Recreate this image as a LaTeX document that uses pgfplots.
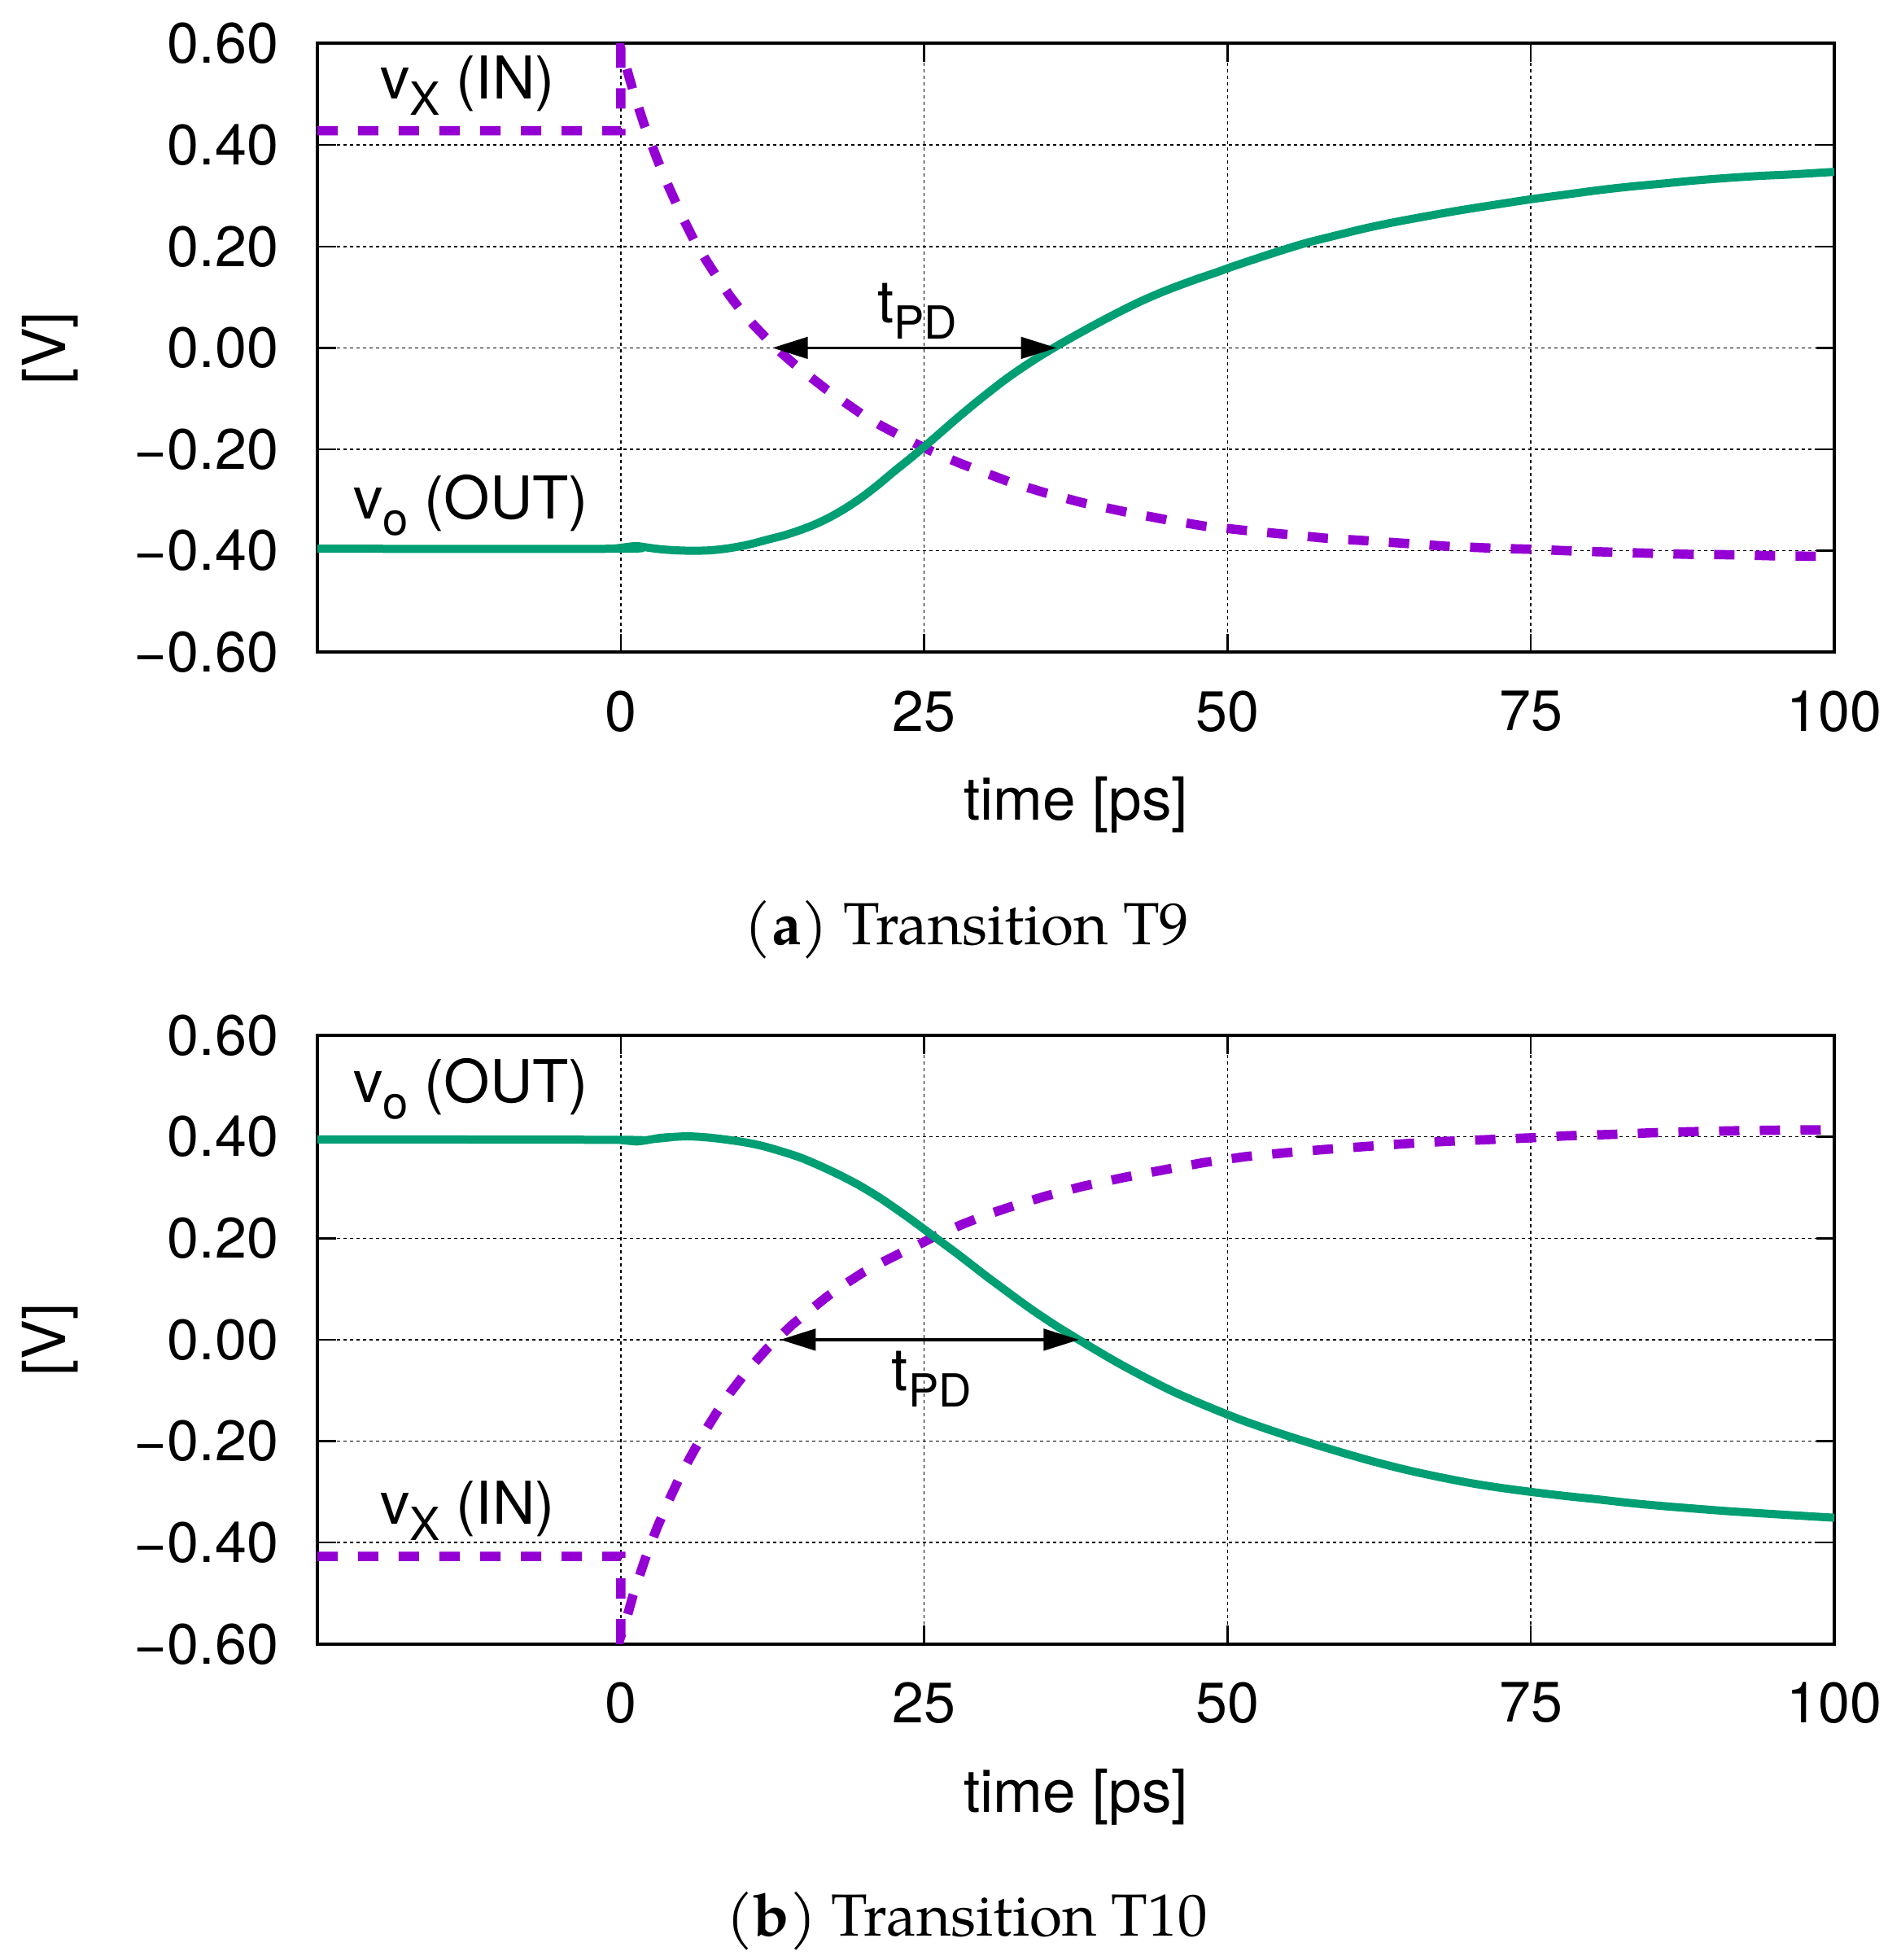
\documentclass[border=0pt]{standalone}
\usepackage{fontspec}
\usepackage{pgfplots}
\usepackage{pgfplotstable}
\pgfplotsset{compat=1.18}
\usetikzlibrary{arrows.meta}
\newfontfamily\helv{TeX Gyre Heros}
\newfontfamily\pal{TeX Gyre Pagella}
\definecolor{vxcol}{HTML}{9400D3}
\definecolor{vocol}{HTML}{009E73}
\newcommand\lblfont{\helv\fontsize{14}{16.8}\selectfont}
\newcommand\axlfont{\helv\fontsize{14.6}{17}\selectfont}
\newcommand\inlfont{\helv\fontsize{14.5}{17}\selectfont}
\newcommand\subfont{\fontsize{11.2}{12}\selectfont}

\pgfplotstableread{
t v
-25 0.428
0 0.428
0 0.590
0.5 0.550
1 0.508
2 0.435
3 0.372
4 0.315
5 0.262
6 0.214
7 0.174
8 0.137
9 0.102
10 0.071
11 0.044
12 0.019
13 -0.005
14.2 -0.030
15.5 -0.055
17 -0.083
18.5 -0.108
20 -0.133
21.5 -0.154
23 -0.173
24.5 -0.191
26 -0.208
28 -0.228
30 -0.246
32 -0.264
35 -0.286
38 -0.305
41.5 -0.323
45 -0.339
48 -0.351
51.5 -0.360
55 -0.368
58 -0.375
62 -0.381
65 -0.386
68 -0.391
72 -0.395
75 -0.397
78 -0.400
82 -0.403
85 -0.405
88 -0.407
92 -0.408
95 -0.410
99.5 -0.411
}\inA

\pgfplotstableread{
t v
-25 -0.396
0 -0.396
0.7 -0.392
1.4 -0.391
2.3 -0.394
3.3 -0.397
4.5 -0.399
5.9 -0.400
7.4 -0.399
8.9 -0.395
10.5 -0.388
12.1 -0.378
13.4 -0.370
14.7 -0.360
16 -0.348
17.3 -0.333
18.6 -0.315
19.9 -0.294
21.2 -0.270
22.5 -0.244
23.8 -0.219
25.1 -0.193
26.4 -0.166
27.7 -0.139
29 -0.113
30.3 -0.088
31.6 -0.064
32.9 -0.042
34.5 -0.017
36.1 0.006
37.8 0.029
39.4 0.050
41 0.070
42.6 0.089
44.3 0.107
45.9 0.122
47.5 0.136
49.1 0.149
50.5 0.161
52.5 0.177
54.3 0.191
56.5 0.207
59 0.222
61.4 0.236
63.8 0.248
66.5 0.260
69.1 0.271
72 0.282
75 0.293
77.8 0.302
80.6 0.311
83.2 0.318
85.9 0.324
88.5 0.330
91.2 0.335
93.8 0.339
96.5 0.342
100 0.347
}\outA

\pgfplotstableread{
t v
-25 -0.427
0 -0.427
0 -0.585
0.5 -0.548
1 -0.505
2 -0.433
3 -0.370
4 -0.315
5 -0.264
6 -0.220
7 -0.178
8 -0.140
9 -0.105
10 -0.074
11 -0.046
12 -0.019
13 0.004
14.2 0.031
15.5 0.056
17 0.085
18.5 0.110
20 0.133
21.5 0.152
23 0.170
24.5 0.187
26 0.205
28 0.226
30 0.245
32 0.261
35 0.283
38 0.302
41.5 0.320
45 0.336
48 0.349
51.5 0.361
55 0.369
58 0.375
62 0.382
65 0.387
68 0.391
72 0.395
75 0.398
78 0.402
82 0.405
85 0.408
88 0.410
92 0.412
95 0.413
99.5 0.414
}\inB

\pgfplotstableread{
t v
-25 0.395
0 0.394
0.7 0.392
1.4 0.391
2.3 0.394
3.3 0.398
4.5 0.400
5.6 0.401
7 0.399
8.2 0.396
10 0.390
11.5 0.383
13 0.373
14.7 0.360
16.3 0.344
18 0.325
19.6 0.305
21.2 0.282
22.5 0.261
23.8 0.239
25.1 0.216
26.4 0.193
27.7 0.170
29 0.146
30.3 0.122
31.6 0.099
32.9 0.076
34.2 0.054
35.9 0.027
37.6 0.002
39.2 -0.021
40.7 -0.042
42.3 -0.063
43.9 -0.083
45.5 -0.102
47.2 -0.120
49 -0.138
51 -0.157
53 -0.174
55 -0.190
57 -0.205
59.5 -0.223
62 -0.240
64.8 -0.257
67.5 -0.271
70.1 -0.283
72.5 -0.292
75 -0.300
77.8 -0.308
80.6 -0.315
83.2 -0.322
85.9 -0.328
88.5 -0.333
91.2 -0.338
93.8 -0.342
96.5 -0.346
100 -0.351
}\outB

\tikzset{
  pd/.style={line width=0.65pt, {Triangle[length=8.7pt,width=5.3pt]}-{Triangle[length=8.7pt,width=5.3pt]}},
  vx/.style={vxcol, line width=2.3pt, line cap=butt, dash pattern=on 5pt off 5pt},
  vo/.style={vocol, line width=2pt, smooth, tension=0.5},
}

\pgfplotsset{
  myaxis/.style={
    scale only axis, width=372.8pt, height=149.56pt,
    anchor=south west,
    xmin=-25, xmax=100, ymin=-0.6, ymax=0.6,
    xtick={0,25,50,75,100},
    ytick={-0.6,-0.4,-0.2,0,0.2,0.4,0.6},
    yticklabels={−0.60,−0.40,−0.20,0.00,0.20,0.40,0.60},
    /pgf/number format/assume math mode=true,
    tick label style={font=\lblfont},
    label style={font=\axlfont},
    xticklabel style={anchor=north, inner sep=0pt, yshift=-9.3pt},
    yticklabel style={anchor=east, inner sep=0pt, xshift=-9.4pt},
    axis line style={line width=0.8pt},
    every tick/.style={black, line width=0.5pt},
    major tick length=4.5pt,
    tick align=inside, tick pos=both,
    grid=major,
    major grid style={black, line width=0.3pt, dash pattern=on 0.8pt off 0.8pt},
    xlabel={time [ps]}, ylabel={[V]},
    xlabel style={at={(axis description cs:0.5,0)}, anchor=base, yshift=-41.3pt, inner sep=0pt},
    ylabel style={at={(axis description cs:-0.17624,0.5)}, anchor=center, inner sep=0pt},
  },
}

\begin{document}
\begin{tikzpicture}
\path[use as bounding box] (0,0) rectangle (467pt,-481.6pt);

\begin{axis}[myaxis, at={(78pt,-160.26pt)}]
  \addplot[vx] table[x=t,y=v] {\inA};
  \addplot[vo] table[x=t,y=v] {\outA};
  \draw[pd] (axis cs:12.5,0) -- (axis cs:35.9,0);
  \node[anchor=base west, inner sep=0pt, font=\inlfont] at (axis cs:-19.9,0.491) {v\raisebox{-4pt}{\subfont X} (IN)};
  \node[anchor=base west, inner sep=0pt, font=\inlfont] at (axis cs:-22.1,-0.337) {v\raisebox{-4pt}{\subfont o} (OUT)};
  \node[anchor=base west, inner sep=0pt, font=\inlfont] at (axis cs:21.1,0.049) {t\raisebox{-4pt}{\subfont PD}};
\end{axis}

\begin{axis}[myaxis, at={(78pt,-403.96pt)}]
  \addplot[vx] table[x=t,y=v] {\inB};
  \addplot[vo] table[x=t,y=v] {\outB};
  \draw[pd] (axis cs:13.15,0) -- (axis cs:37.76,0);
  \node[anchor=base west, inner sep=0pt, font=\inlfont] at (axis cs:-19.9,-0.364) {v\raisebox{-4pt}{\subfont X} (IN)};
  \node[anchor=base west, inner sep=0pt, font=\inlfont] at (axis cs:-22.1,0.468) {v\raisebox{-4pt}{\subfont o} (OUT)};
  \node[anchor=base west, inner sep=0pt, font=\inlfont] at (axis cs:22.27,-0.101) {t\raisebox{-4pt}{\subfont PD}};
\end{axis}

\node[anchor=base, inner sep=0pt, font=\pal\fontsize{14.6}{17}\selectfont] at (237.6pt,-232pt) {(\textbf{a}) Transition T9};
\node[anchor=base, inner sep=0pt, font=\pal\fontsize{14.6}{17}\selectfont] at (237.6pt,-475.7pt) {(\textbf{b}) Transition T10};
\end{tikzpicture}
\end{document}
